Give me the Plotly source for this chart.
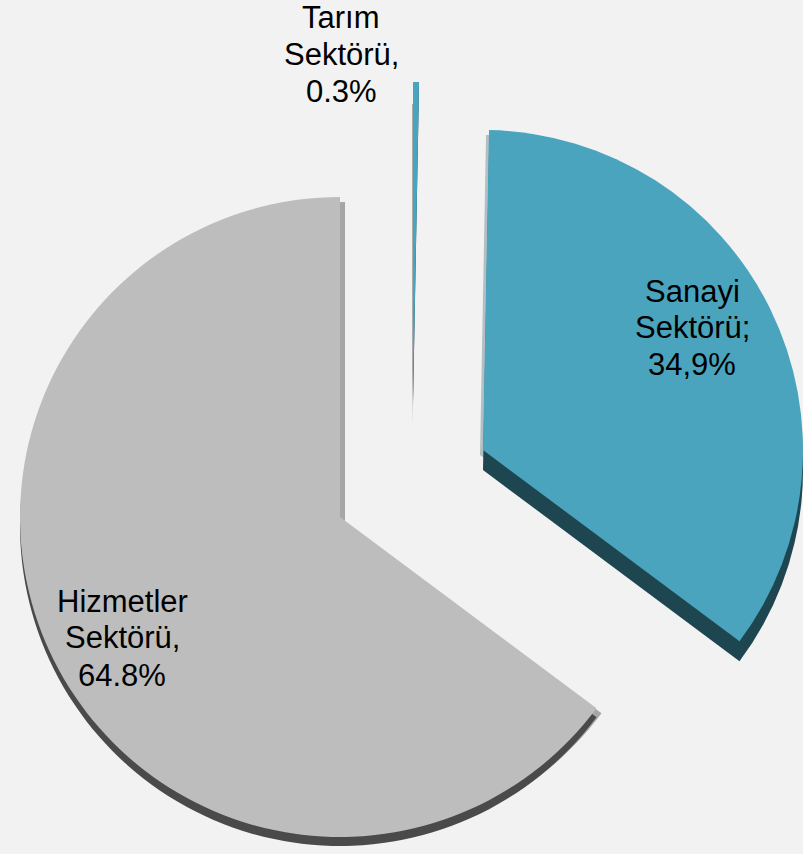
import plotly.graph_objects as go

# ---- data ----
sectors = ["Tarım Sektörü", "Sanayi Sektörü", "Hizmetler Sektörü"]
shares = [0.3, 34.9, 64.8]
label_line1 = ["Tarım", "Sanayi", "Hizmetler"]
label_line2 = ["Sektörü,", "Sektörü;", "Sektörü,"]
pct_text = ["0.3%", "34,9%", "64.8%"]

# ---- styling / layout constants ----
W, H = 803, 854
BG = "#f2f2f2"
face_colors = ["#4aa4be", "#4aa4be", "#bdbdbd"]
side_colors = ["#1e4650", "#1e4650", "#4a4a4a"]
shadow_colors = ["#ababab", "#b3bfc2", "#a6a6a6"]
R = 320
apex = [(413, 402), (483, 450), (340, 517)]      # pixel centre of each exploded slice
side_depth = [4, 20, 9]
shadow_off = [(-1, 22), (-3, 5), (5, 5)]
label_x = [341, 692, 122]
label_baselines = [(28, 65, 102), (302, 338, 375), (612, 648, 686)]
FONT = "Liberation Sans, Arial, sans-serif"
FONT_SIZE = 31


def domain_for(cx, cy, r):
    return dict(x=[max(0, (cx - r) / W), min(1, (cx + r) / W)],
                y=[max(0, 1 - (cy + r) / H), min(1, 1 - (cy - r) / H)])


def pie_layer(idx, color, cx, cy):
    cols = ["rgba(0,0,0,0)"] * len(shares)
    cols[idx] = color
    return go.Pie(
        labels=sectors, values=shares, sort=False, direction="clockwise",
        rotation=0, textinfo="none", hoverinfo="skip", showlegend=False,
        marker=dict(colors=cols, line=dict(width=0)),
        domain=domain_for(cx, cy, R),
    )


fig = go.Figure()
# soft shadows
for i in range(len(shares)):
    ax, ay = apex[i]
    dx, dy = shadow_off[i]
    fig.add_trace(pie_layer(i, shadow_colors[i], ax + dx, ay + dy))
# sides (3D thickness)
for i in range(len(shares)):
    ax, ay = apex[i]
    fig.add_trace(pie_layer(i, side_colors[i], ax, ay + side_depth[i]))
# top faces
for i in range(len(shares)):
    ax, ay = apex[i]
    fig.add_trace(pie_layer(i, face_colors[i], ax, ay))

annotations = []
for i in range(len(shares)):
    lines = [label_line1[i], label_line2[i], pct_text[i]]
    for line, base in zip(lines, label_baselines[i]):
        yc = base - 0.35 * FONT_SIZE
        annotations.append(dict(
            x=label_x[i] / W, y=1 - yc / H, xref="paper", yref="paper",
            xanchor="center", yanchor="middle", showarrow=False,
            text=line, font=dict(family=FONT, size=FONT_SIZE, color="#000000"),
        ))

fig.update_layout(
    width=W, height=H, margin=dict(l=0, r=0, t=0, b=0),
    paper_bgcolor=BG, plot_bgcolor=BG, annotations=annotations,
    font=dict(family=FONT),
)
fig.write_html(
    "out.html",
    config={"displayModeBar": False},
    post_script="document.body.style.margin='0px';"
                "document.body.style.overflow='hidden';"
                "document.body.style.background='#f2f2f2';",
)
